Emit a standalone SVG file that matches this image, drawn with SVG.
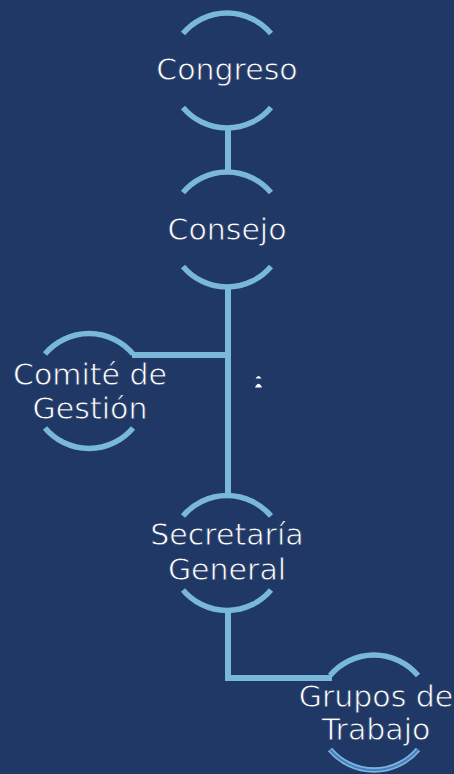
<svg xmlns="http://www.w3.org/2000/svg" width="454" height="774" viewBox="0 0 454 774">
<style>
.arc{fill:none;stroke:#7ab8da;stroke-width:5.5}
.inner{fill:none;stroke:#4a7cc4;stroke-width:2}
.conn{fill:none;stroke:#7ab8da;stroke-width:6}
.lbl{font-family:"DejaVu Sans",sans-serif;font-size:30px;fill:#ffffff;stroke:#1f3866;stroke-width:0.8px;text-anchor:middle}
</style>
<rect width="454" height="774" fill="#1f3866"/>
<g id="connectors">
<path class="conn" d="M228 127 V173"/>
<path class="conn" d="M228 286 V496"/>
<path class="conn" d="M132 355 H228"/>
<path class="conn" d="M228 611 V678 H332"/>
</g>
<g id="congreso">
<path class="arc" d="M183 33.5 A57.5 57.5 0 0 1 271 33.5"/>
<path class="arc" d="M183 107.5 A57.5 57.5 0 0 0 271 107.5"/>
<text class="lbl" x="227" y="80">Congreso</text>
</g>
<g id="consejo">
<path class="arc" d="M183 192.5 A57.5 57.5 0 0 1 271 192.5"/>
<path class="arc" d="M183 266.5 A57.5 57.5 0 0 0 271 266.5"/>
<text class="lbl" x="227" y="240">Consejo</text>
</g>
<g id="comite">
<path class="arc" d="M45 354 A57.5 57.5 0 0 1 133 354"/>
<path class="arc" d="M45 428 A57.5 57.5 0 0 0 133 428"/>
<text class="lbl" x="90" y="385">Comité de</text>
<text class="lbl" x="90" y="419">Gestión</text>
</g>
<g id="mark">
<path d="M255.5 378.5 Q258.5 373.5 261.5 378.5 Z" fill="#ffffff"/>
<path d="M255 387.5 Q258.5 380 262 387.5 Z" fill="#ffffff"/>
</g>
<g id="secretaria">
<path class="arc" d="M183 516 A57.5 57.5 0 0 1 271 516"/>
<path class="arc" d="M183 590 A57.5 57.5 0 0 0 271 590"/>
<text class="lbl" x="227" y="545">Secretaría</text>
<text class="lbl" x="227" y="580">General</text>
</g>
<g id="grupos">
<path class="arc" d="M330 675.5 A57.5 57.5 0 0 1 418 675.5"/>
<path class="arc" d="M330 749.5 A57.5 57.5 0 0 0 418 749.5"/>
<path class="inner" d="M330 749.5 A57.5 57.5 0 0 0 418 749.5"/>
<text class="lbl" x="376" y="707">Grupos de</text>
<text class="lbl" x="376" y="740">Trabajo</text>
</g>
</svg>
